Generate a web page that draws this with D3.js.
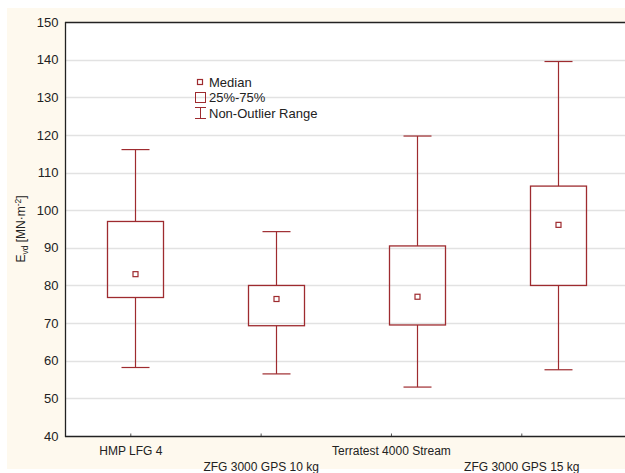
<!DOCTYPE html>
<html><head><meta charset="utf-8">
<script src="https://cdn.jsdelivr.net/npm/d3@7"></script>
<style>body{margin:0;background:#fff}svg{display:block;font-family:"Liberation Sans",Arial,sans-serif}</style>
</head><body>
<script>
const categories = ["HMP LFG 4","ZFG 3000 GPS 10 kg","Terratest 4000 Stream","ZFG 3000 GPS 15 kg"];
const whiskerLow  = [58.2, 56.5, 53.0, 57.6];
const q1          = [76.8, 69.3, 69.5, 80.0];
const median      = [83.0, 76.4, 77.0, 96.1];
const q3          = [97.0, 80.0, 90.5, 106.4];
const whiskerHigh = [116.1, 94.3, 119.7, 139.5];
const yTicks = [40,50,60,70,80,90,100,110,120,130,140,150];
const legendItems = ["Median","25%-75%","Non-Outlier Range"];

const W = 625, H = 473;
const L = 65, T = 22, B = 436, R = 628;
const col = "#9e2b2f";
const svg = d3.select("body").append("svg").attr("width",W).attr("height",H);
svg.append("rect").attr("x",7).attr("y",8).attr("width",W-7).attr("height",461).attr("fill","#fef9ee");
svg.append("rect").attr("x",L).attr("y",T).attr("width",R-L).attr("height",B-T).attr("fill","#fff");

const y = d3.scaleLinear().domain([40,150]).range([B,T]);
const xb = d3.scaleBand().domain(categories).range([L,R]);
const xt = d3.scalePoint().domain(categories).range([130.3,521.3]);

// gridlines
svg.append("g").selectAll("line").data(yTicks.slice(1,-1)).join("line")
  .attr("x1",L).attr("x2",R).attr("y1",d=>Math.round(y(d))+0.5).attr("y2",d=>Math.round(y(d))+0.5)
  .attr("stroke","#e2e2e2").attr("stroke-width",1.5);

// y axis
const ya = svg.append("g").attr("transform",`translate(${L+0.5},0)`)
  .call(d3.axisLeft(y).tickValues(yTicks).tickSize(0).tickPadding(7));
ya.select(".domain").remove();
ya.selectAll("text").attr("font-size",13).attr("fill","#222").attr("font-family","Liberation Sans, Arial");

// x axis
const xa = svg.append("g").attr("transform",`translate(0,${B+0.5})`)
  .call(d3.axisBottom(xt).tickSize(-3).tickPadding(0));
xa.select(".domain").remove();
xa.selectAll("line").attr("stroke","#555");
xa.selectAll("text").attr("font-size",12).attr("fill","#222").attr("font-family","Liberation Sans, Arial")
  .attr("dy",(d,i)=> i%2===0 ? 18 : 34);

// borders
svg.append("line").attr("x1",L).attr("x2",R).attr("y1",T+0.5).attr("y2",T+0.5).attr("stroke","#222").attr("stroke-width",1.3);
svg.append("line").attr("x1",L).attr("x2",R).attr("y1",B+0.5).attr("y2",B+0.5).attr("stroke","#222").attr("stroke-width",1.3);
svg.append("line").attr("x1",L+0.5).attr("x2",L+0.5).attr("y1",T).attr("y2",B+1).attr("stroke","#222").attr("stroke-width",1.3);

// boxes
const bw = 56, cw = 28;
const g = svg.append("g").selectAll("g").data(categories).join("g")
  .attr("transform",d=>`translate(${Math.round(xb(d)+xb.bandwidth()/2)+0.5},0)`);
g.append("line").attr("y1",(d,i)=>y(whiskerHigh[i])).attr("y2",(d,i)=>y(q3[i])).attr("stroke",col).attr("stroke-width",1.2);
g.append("line").attr("y1",(d,i)=>y(q1[i])).attr("y2",(d,i)=>y(whiskerLow[i])).attr("stroke",col).attr("stroke-width",1.2);
g.append("line").attr("x1",-cw/2).attr("x2",cw/2).attr("y1",(d,i)=>y(whiskerHigh[i])).attr("y2",(d,i)=>y(whiskerHigh[i])).attr("stroke",col).attr("stroke-width",1.2);
g.append("line").attr("x1",-cw/2).attr("x2",cw/2).attr("y1",(d,i)=>y(whiskerLow[i])).attr("y2",(d,i)=>y(whiskerLow[i])).attr("stroke",col).attr("stroke-width",1.2);
g.append("rect").attr("x",-bw/2).attr("width",bw).attr("y",(d,i)=>y(q3[i])).attr("height",(d,i)=>y(q1[i])-y(q3[i]))
  .attr("fill","none").attr("stroke",col).attr("stroke-width",1.3);
g.append("rect").attr("x",-2.5).attr("width",5).attr("y",(d,i)=>y(median[i])-2.5).attr("height",5)
  .attr("fill","#fff").attr("stroke",col).attr("stroke-width",1.2);

// legend
const lg = svg.append("g");
lg.append("rect").attr("x",197.5).attr("y",79.5).attr("width",5).attr("height",5).attr("fill","none").attr("stroke",col).attr("stroke-width",1.2);
lg.append("rect").attr("x",195.5).attr("y",92.5).attr("width",10).attr("height",10).attr("fill","none").attr("stroke",col);
lg.append("line").attr("x1",200.5).attr("x2",200.5).attr("y1",107.5).attr("y2",118.5).attr("stroke",col);
lg.append("line").attr("x1",195).attr("x2",206).attr("y1",107.5).attr("y2",107.5).attr("stroke",col);
lg.append("line").attr("x1",195).attr("x2",206).attr("y1",118.5).attr("y2",118.5).attr("stroke",col);
lg.selectAll("text").data(legendItems).join("text")
  .attr("x",209).attr("y",(d,i)=>87+i*15.3).attr("font-size",13).attr("fill","#222").text(d=>d);

// y label
const yl = svg.append("text").attr("transform",`translate(25,${(T+B)/2}) rotate(-90)`)
  .attr("text-anchor","middle").attr("font-size",12).attr("fill","#222");
yl.append("tspan").text("E");
yl.append("tspan").attr("font-size",8.5).attr("dy",3).text("vd");
yl.append("tspan").attr("dy",-3).text(" [MN·m");
yl.append("tspan").attr("font-size",8.5).attr("dy",-4.5).text("-2");
yl.append("tspan").attr("dy",4.5).text("]");
</script>
</body></html>
